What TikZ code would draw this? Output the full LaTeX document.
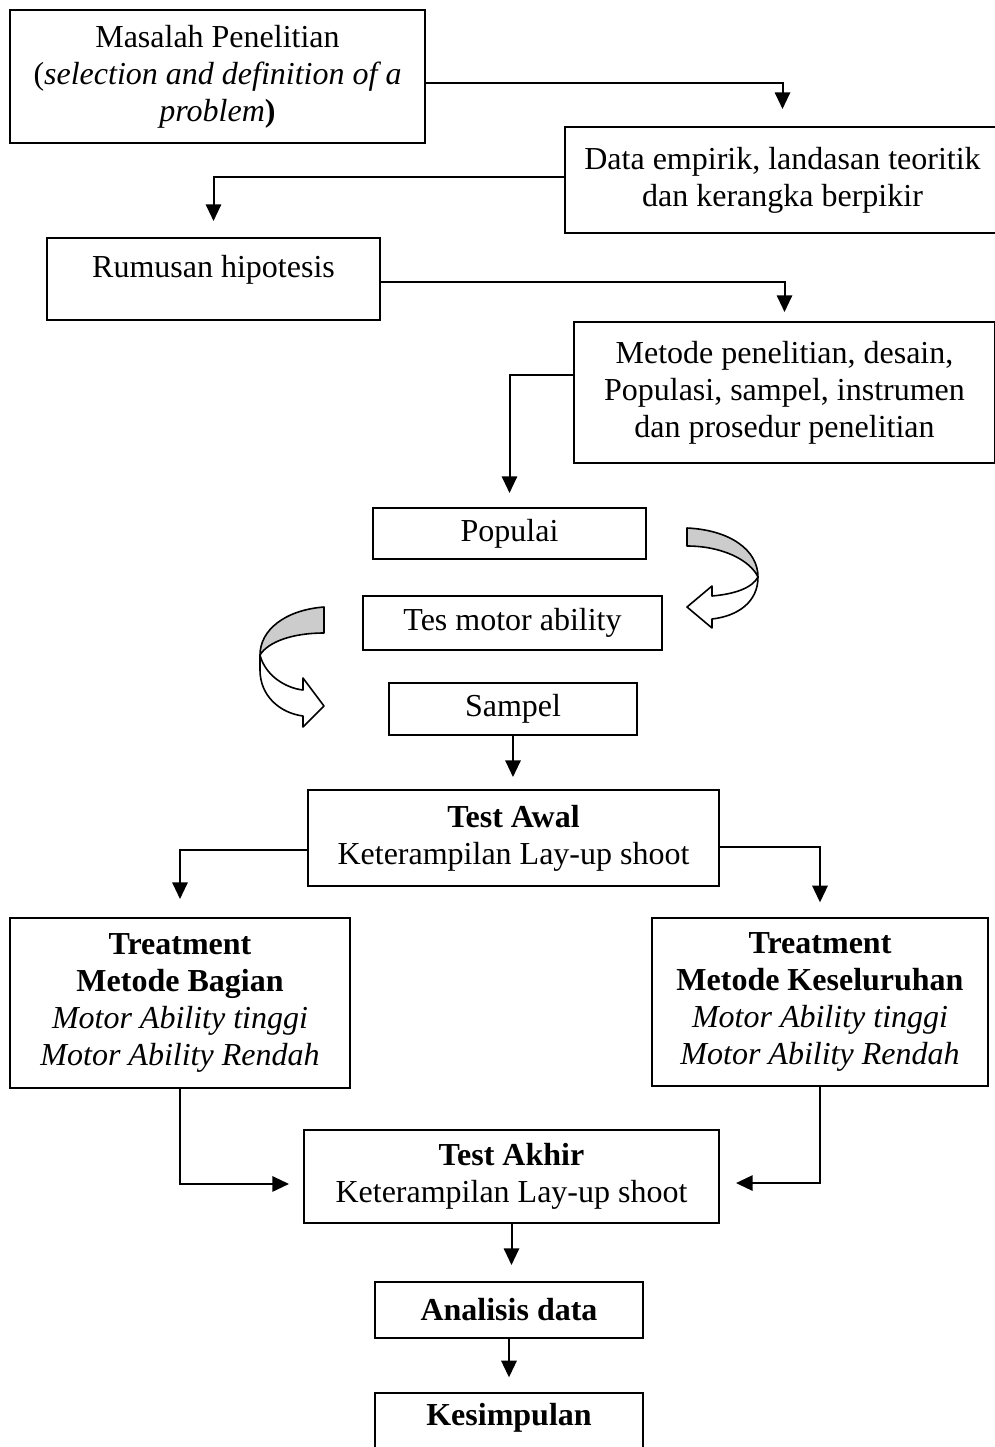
\documentclass[tikz,border=0pt]{standalone}
\usepackage{fontspec}
\setmainfont{Liberation Serif}
\usetikzlibrary{arrows.meta}

\tikzset{every picture/.style={line width=1.5pt}}
\tikzset{
  kotak/.style 2 args={draw, align=center, inner sep=0pt, minimum width=#1*0.75pt, minimum height=#2*0.75pt, font=\fontsize{24pt}{27.6pt}\selectfont},
  panah/.style={-{Triangle[length=12.5pt,width=11.5pt]}, shorten >=#1},
  panah/.default=11pt,
  pita/.style={line width=1.2pt, line join=round},
}

\begin{document}
\begin{tikzpicture}[x=0.75pt,y=0.75pt,yscale=-1,xscale=1]
    \useasboundingbox (0,0) rectangle (995,1447);

    % Boxes
    \node [kotak={415}{133}] (mas) at (217.5,76.5) {Masalah Penelitian\\(\textit{selection and definition of a}\\\textit{problem}\textbf{)}};
    \node [kotak={435}{106}] (dat) at (782.5,180) {Data empirik, landasan teoritik\\dan kerangka berpikir};
    \node [kotak={333}{82}, text depth=18.7pt] (rum) at (213.5,279) {Rumusan hipotesis};
    \node [kotak={421}{141}] (met) at (784.5,392.5) {Metode penelitian, desain,\\Populasi, sampel, instrumen\\dan prosedur penelitian};
    \node [kotak={273}{51}] (pop) at (509.5,533.5) {Populai};
    \node [kotak={299}{54}] (tes) at (512.5,623) {Tes motor ability};
    \node [kotak={248}{52}] (sam) at (513,709) {Sampel};
    \node [kotak={411}{96}] (awal) at (513.5,838) {\textbf{Test Awal}\\Keterampilan Lay-up shoot};
    \node [kotak={340}{170}] (bag) at (180,1003) {\textbf{Treatment}\\\textbf{Metode Bagian}\\\textit{Motor Ability tinggi}\\\textit{Motor Ability Rendah}};
    \node [kotak={336}{168}] (kes) at (820,1002) {\textbf{Treatment}\\\textbf{Metode Keseluruhan}\\\textit{Motor Ability tinggi}\\\textit{Motor Ability Rendah}};
    \node [kotak={415}{93}] (akhir) at (511.5,1176.5) {\textbf{Test Akhir}\\Keterampilan Lay-up shoot};
    \node [kotak={268}{56}] (anal) at (509,1310) {\textbf{Analisis data}};
    \node [kotak={268}{80}, text depth=27.5pt] (simp) at (509,1433) {\textbf{Kesimpulan}};

    % Connectors
    \draw [panah=12.75pt] ([yshift=4.9pt]mas.east) -| (dat.north);
    \draw [panah=12pt] ([yshift=-2.2pt]dat.west) -| (rum.north);
    \draw [panah=6.75pt] ([yshift=2.2pt]rum.east) -| (met.north);
    \draw [panah=10.5pt] ([yshift=-13.5pt]met.west) -| (pop.north);
    \draw [panah=9pt] (sam.south) -- (sam.south |- awal.north);
    \draw [panah=13.5pt] ([yshift=9pt]awal.west) -| (bag.north);
    \draw [panah=11pt] ([yshift=6.75pt]awal.east) -| (kes.north);
    \draw [panah=10.5pt] (bag.south) |- ([yshift=5.6pt]akhir.west);
    \draw [panah=12pt] (kes.south) |- ([yshift=4.9pt]akhir.east);
    \draw [panah=12pt] (akhir.south) -- (akhir.south |- anal.north);
    \draw [panah=11pt] (anal.south) -- (simp.north);

    % Curved arrow right
    \draw [pita, fill=black!20] (687,528) .. controls (730,530) and (758,550) .. (758,577) .. controls (750,560) and (722,546) .. (687,546) -- cycle;
    \draw [pita, fill=white] (758,577) .. controls (758,602) and (738,616) .. (712,619) -- (712,628) -- (687,607) -- (712,586) -- (712,596) .. controls (735,594) and (752,588) .. (758,577) -- cycle;
    % Curved arrow left
    \draw [pita, fill=black!20] (324,607) .. controls (285,610) and (260,630) .. (260,655) .. controls (268,642) and (292,633) .. (324,633) -- cycle;
    \draw [pita, fill=white] (260,655) -- (260,670) .. controls (260,696) and (280,713) .. (303,716) -- (303,727) -- (324,706) -- (303,678) -- (303,690) .. controls (285,688) and (265,675) .. (260,655) -- cycle;

\end{tikzpicture}
\end{document}
